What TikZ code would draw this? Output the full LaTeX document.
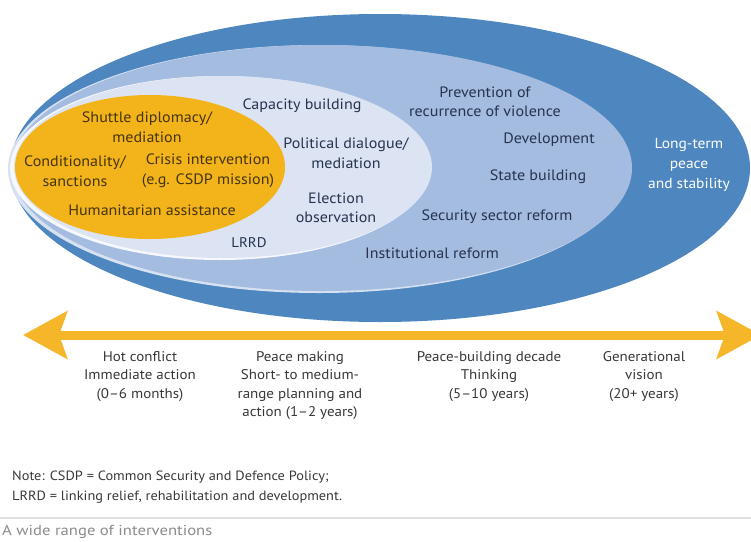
\documentclass[tikz,border=0pt]{standalone}
\usepackage{fontspec}
\setmainfont{PT Sans}[FakeStretch=1.07]
\newfontfamily\capfont{PT Sans}[FakeStretch=1.15]
\usetikzlibrary{arrows.meta}
\definecolor{outerblue}{HTML}{4E86BF}
\definecolor{midblue}{HTML}{A3BCE0}
\definecolor{lightblue}{HTML}{DCE4F3}
\definecolor{orangefill}{HTML}{F3B31A}
\definecolor{navytext}{HTML}{27334F}
\definecolor{orangetext}{HTML}{45360F}
\definecolor{arrowyellow}{HTML}{F5B62A}
\definecolor{greytext}{HTML}{383838}
\definecolor{captiongrey}{HTML}{8C8C8C}
\tikzset{
  lbl/.style={align=center, font=\fontsize{15}{19.5}\selectfont, text=navytext, inner sep=0pt},
  olbl/.style={lbl, text=orangetext},
  tl/.style={align=center, font=\fontsize{14}{18.5}\selectfont, text=greytext, inner sep=0pt, anchor=north},
  note/.style={align=left, font=\fontsize{13.4}{20}\selectfont, text=greytext, inner sep=0pt, anchor=north west},
  timearrow/.style={line width=9pt, draw=arrowyellow,
    {Stealth[length=44pt,width=47pt,inset=8pt]}-{Stealth[length=44pt,width=47pt,inset=8pt]}},
}
\begin{document}
\begin{tikzpicture}[x=1pt,y=-1pt]
\useasboundingbox[fill=white] (0,0) rectangle (751,541);
% ellipses
\fill[outerblue] (380,168) ellipse [x radius=370, y radius=154];
\fill[white!55!midblue] (319,169) ellipse [x radius=311, y radius=124];
\fill[midblue] (322,168) ellipse [x radius=310, y radius=123];
\fill[white!75!lightblue] (220,168) ellipse [x radius=210, y radius=92];
\fill[lightblue] (223,167) ellipse [x radius=209, y radius=91];
\fill[orangefill] (150,167) ellipse [x radius=135, y radius=72];
% orange texts
\node[olbl] (shuttle) at (147,127) {Shuttle diplomacy/\\mediation};
\node[olbl] (cond) at (75,171) {Conditionality/\\sanctions};
\node[olbl] (crisis) at (208,171) {Crisis intervention\\(e.g. CSDP mission)};
\node[olbl] (human) at (152,210) {Humanitarian assistance};
% light ellipse texts
\node[lbl] (cap) at (302,106) {Capacity building};
\node[lbl] (pol) at (346,153) {Political dialogue/\\mediation};
\node[lbl] (elec) at (336,208) {Election\\observation};
\node[lbl, font=\fontsize{14}{16}\selectfont] (lrrd) at (249,243) {LRRD};
% mid ellipse texts
\node[lbl] (prev) at (485,102) {Prevention of\\recurrence of violence};
\node[lbl] (dev) at (549,140) {Development};
\node[lbl] (state) at (538,177) {State building};
\node[lbl] (ssr) at (497,217) {Security sector reform};
\node[lbl] (inst) at (432,253) {Institutional reform};
% outer
\node[lbl, text=white, font=\fontsize{14.5}{20}\selectfont] (long) at (689,165) {Long-term\\peace\\and stability};
% arrow
\coordinate (aL) at (23,335);
\coordinate (aR) at (761,335);
\draw[timearrow] (aL) -- (aR);
% time labels
\node[tl] (hot) at (140,351) {Hot conflict\\Immediate action\\(0--6 months)};
\node[tl] (pm) at (300,351) {Peace making\\Short- to medium-\\range planning and\\action (1--2 years)};
\node[tl] (pb) at (489,351) {Peace-building decade\\Thinking\\(5--10 years)};
\node[tl] (gen) at (644,351) {Generational\\vision\\(20+ years)};
% note
\node[note] (notetext) at (12,471) {Note: CSDP = Common Security and Defence Policy;\\LRRD = linking relief, rehabilitation and development.};
\coordinate (rl) at (0,518);
\coordinate (rr) at (751,518);
\draw[line width=1.2pt, draw=black!12] (rl) -- (rr);
\node[anchor=west, inner sep=0pt, font=\capfont\fontsize{14.5}{16}\selectfont, text=captiongrey] (cap2) at (2,532) {A wide range of interventions};
\end{tikzpicture}
\end{document}
